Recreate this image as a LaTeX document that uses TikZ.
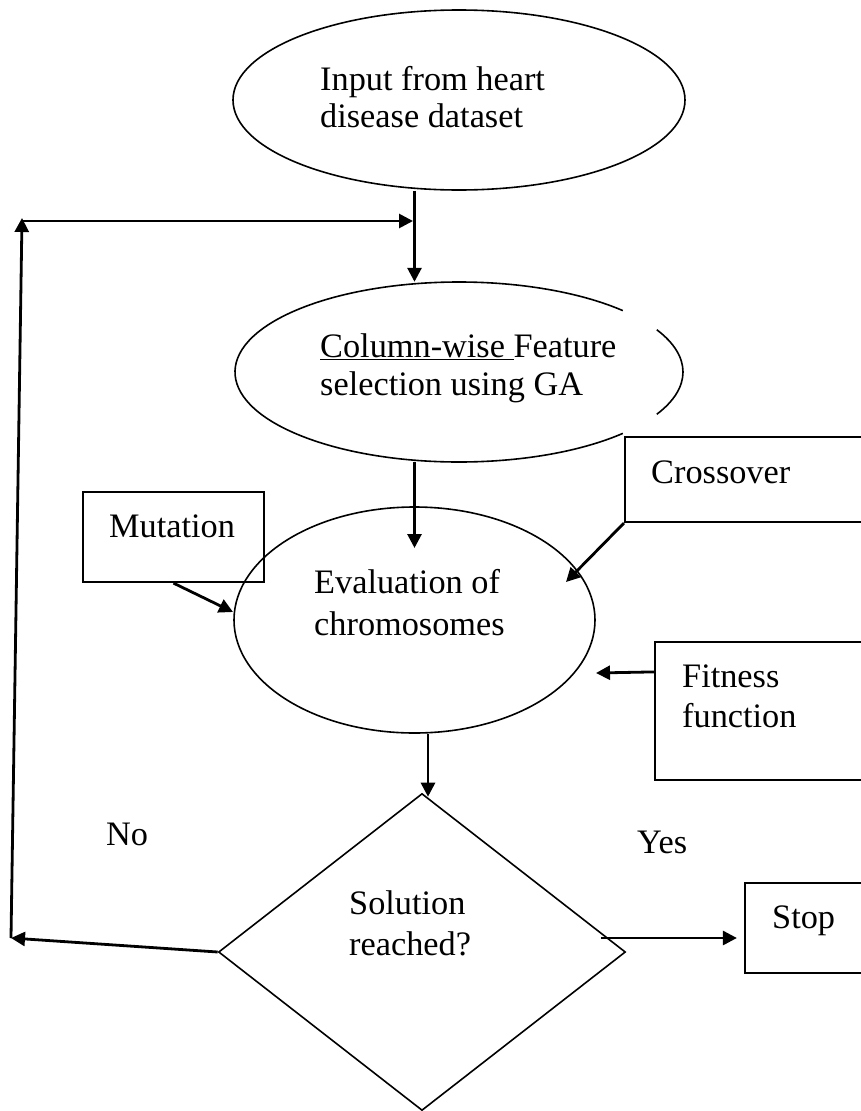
\documentclass[tikz,border=0pt]{standalone}
\usepackage{fontspec}
\setmainfont{Liberation Serif}
\usetikzlibrary{arrows.meta,shapes.geometric,calc}
\begin{document}
\begin{tikzpicture}[x=1pt,y=-1pt,
  txt/.style={font=\fontsize{34.3}{#1}\selectfont, inner sep=0pt, anchor=base west},
  txt/.default=37,
  ell/.style={ellipse, inner sep=0pt},
  outl/.style={line width=1.6pt},
  boxs/.style={draw, rectangle, line width=2.2pt, inner sep=0pt},
  arr/.style={line width=2.8pt, -{Triangle[length=14pt,width=14pt]}},
]
\useasboundingbox (0,0) rectangle (861,1111);

% shapes
\node[ell, draw, outl, minimum width=452pt, minimum height=180pt] (e1) at (459,100) {};
\node[ell, minimum width=448pt, minimum height=180pt] (e2) at (459,372) {};
\draw[outl] (e2.center) ++(28:224 and 90) arc[start angle=28, end angle=-28, x radius=224, y radius=90];
\draw[outl] (e2.center) ++(43:224 and 90) arc[start angle=43, end angle=317, x radius=224, y radius=90];
\node[ell, draw, outl, minimum width=361pt, minimum height=226pt] (e3) at (414.5,620) {};
\node[boxs, minimum width=181pt, minimum height=90pt] (mut) at (173.5,537) {};
\node[boxs, minimum width=255pt, minimum height=85pt] (cross) at (752.5,479.5) {};
\node[boxs, minimum width=225pt, minimum height=138pt] (fit) at (767.5,711) {};
\node[boxs, minimum width=135pt, minimum height=90pt] (stop) at (812.5,928) {};
\node[diamond, draw, outl, inner sep=0pt, minimum width=407pt, minimum height=317pt] (d) at (422,952) {};

% texts
\node[txt] (t1) at (320,127) {\begin{tabular}[b]{@{}l@{}}Input from heart\\disease dataset\end{tabular}};
\node[txt=38] (t2) at (320,395) {\begin{tabular}[b]{@{}l@{}}\underline{Column-wise\ }Feature\\selection using GA\end{tabular}};
\node[txt=42] (t3) at (314,635) {\begin{tabular}[b]{@{}l@{}}Evaluation of\\chromosomes\end{tabular}};
\node[txt] (tm) at (109,537) {Mutation};
\node[txt] (tc) at (651,483) {Crossover};
\node[txt=40] (tf) at (682,727) {\begin{tabular}[b]{@{}l@{}}Fitness\\function\end{tabular}};
\node[txt=41] (ts) at (349,955) {\begin{tabular}[b]{@{}l@{}}Solution\\reached?\end{tabular}};
\node[txt] (tno) at (106,845) {No};
\node[txt] (tyes) at (637,853) {Yes};
\node[txt] (tstop) at (772,928) {Stop};

% connectors
\coordinate (lb) at (11,938);
\coordinate (lt) at (22,218);
\coordinate (jn) at (413,221);
\draw[arr] (e1.south -| e3) -- (e2.north -| e3);
\draw[arr] (d.west) -- (lb);
\draw[arr] (lb) -- (lt);
\draw[arr] ($(lt)+(0,3)$) -- (jn);
\draw[arr] (e2.south -| e3) -- ($(e3.center)+(0,-72)$);
\draw[arr] (mut.south) -- ($(e3.center)+(-181.5,-8)$);
\draw[arr] (cross.south west) -- ($(e3.center)+(151.5,-38)$);
\draw[arr] ($(fit.north west)+(0,31)$) -- ($(e3.center)+(181.5,53)$);
\draw[arr] ($(e3.south)+(13.5,0)$) -- ($(d.north)+(6,4)$);
\draw[arr] ($(d.east)+(-25,-14)$) -- ($(stop.west)+(-7,10)$);
\end{tikzpicture}
\end{document}
